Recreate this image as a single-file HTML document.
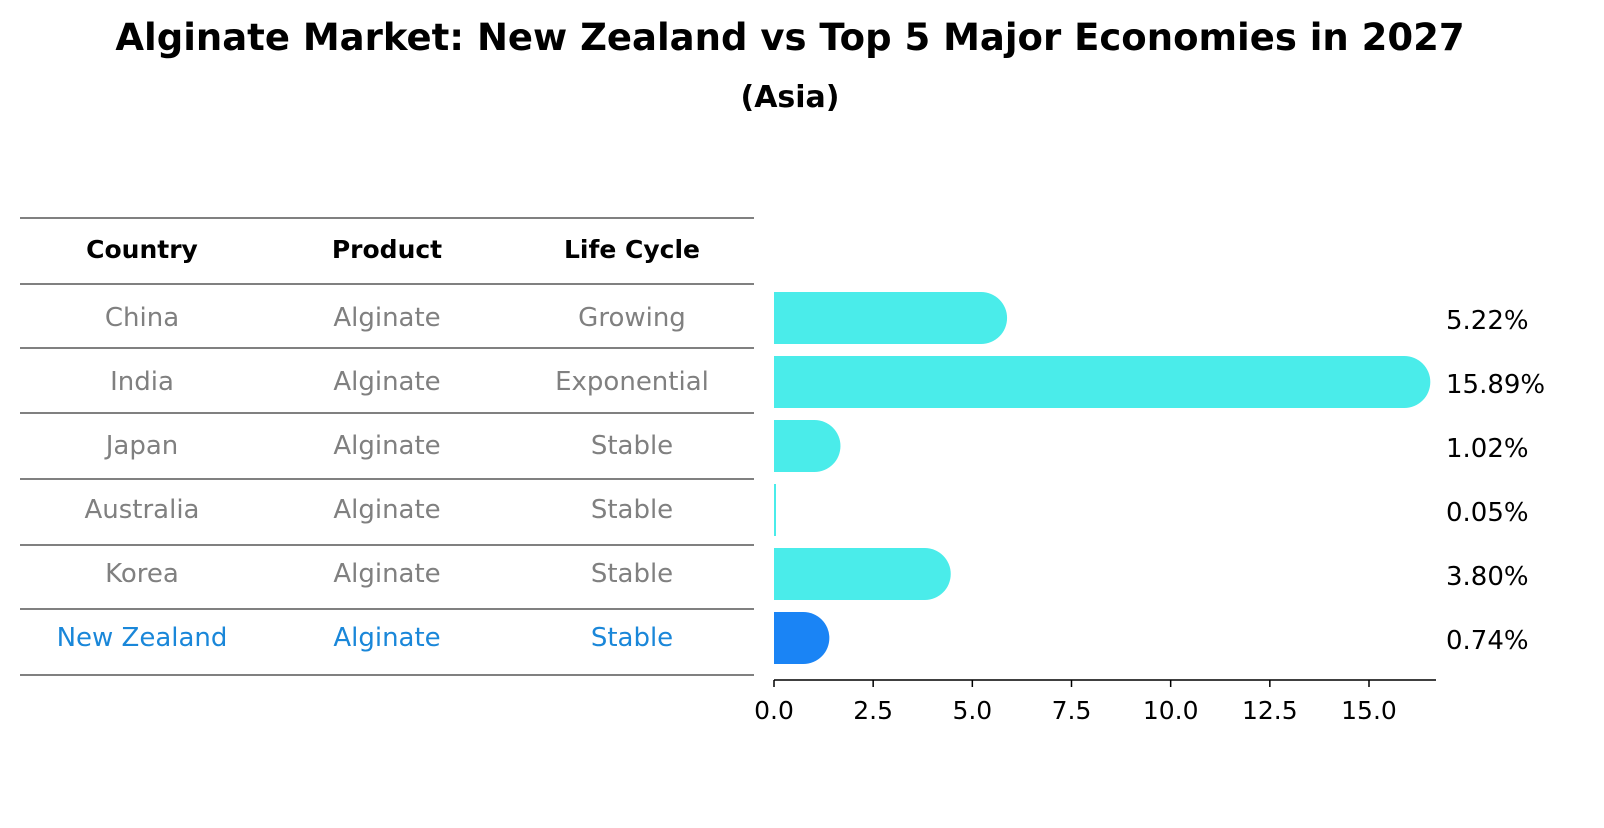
<!DOCTYPE html>
<html><head><meta charset="utf-8"><style>
body{margin:0;background:#fff;font-family:"Liberation Sans","DejaVu Sans",sans-serif;}
</style></head><body>
<svg width="1604" height="823" xmlns="http://www.w3.org/2000/svg" font-family="DejaVu Sans, Liberation Sans, sans-serif">
<rect width="1604" height="823" fill="#fff"/>
<text x="790" y="50" text-anchor="middle" font-size="37" font-weight="bold">Alginate Market: New Zealand vs Top 5 Major Economies in 2027</text>
<text x="790" y="107" text-anchor="middle" font-size="30" font-weight="bold">(Asia)</text>
<g id="table"></g>
<g id="bars"></g>
<g id="axis"></g>
</svg>
<script>
const countries=["China","India","Japan","Australia","Korea","New Zealand"];
const products=["Alginate","Alginate","Alginate","Alginate","Alginate","Alginate"];
const lifeCycles=["Growing","Exponential","Stable","Stable","Stable","Stable"];
const values=[5.22,15.89,1.02,0.05,3.80,0.74];
const valueLabels=["5.22%","15.89%","1.02%","0.05%","3.80%","0.74%"];
const xTicks=[0,2.5,5,7.5,10,12.5,15];
const xTickLabels=["0.0","2.5","5.0","7.5","10.0","12.5","15.0"];

const NS="http://www.w3.org/2000/svg";
function mk(tag,attrs,parent,txt){const e=document.createElementNS(NS,tag);for(const k in attrs)e.setAttribute(k,attrs[k]);if(txt!==undefined)e.textContent=txt;parent.appendChild(e);return e;}
const x0=774,pxPer=(1369-774)/15;
const xs=v=>x0+v*pxPer;
const yc=i=>318+i*64;
const barH=52,r=26;

const table=document.getElementById('table');
const lines=[218,284,348,413,479,545,609,675];
lines.forEach((y,i)=>{const l=mk('line',{x1:20,x2:754,y1:y,y2:y,stroke:'#000','stroke-width':1},table);

});
const colX=[142,387,632];
["Country","Product","Life Cycle"].forEach((h,j)=>{const t=mk('text',{x:colX[j],y:258,'text-anchor':'middle','font-size':25,'font-weight':'bold'},table,h);

});
countries.forEach((c,i)=>{
 const col=i===countries.length-1?'#1a87d9':'#808080';
 [c,products[i],lifeCycles[i]].forEach((v,j)=>{
  const t=mk('text',{x:colX[j],y:yc(i)+8,'text-anchor':'middle','font-size':26,fill:col},table,v);
  
  
 });
});

const bars=document.getElementById('bars');
values.forEach((v,i)=>{
 const col=i===values.length-1?'#1a84f5':'#4aecea';
 const xe=xs(v),top=yc(i)-barH/2;
 let d;
 if(v<0.2){d=`M${x0} ${top}h2v${barH}h-2z`;}
 else d=`M${x0} ${top}H${xe}A${r} ${r} 0 0 1 ${xe} ${top+barH}H${x0}Z`;
 const p=mk('path',{d:d,fill:col},bars);
 
 
 const t=mk('text',{x:1446,y:yc(i)+11,'font-size':26},bars,valueLabels[i]);
 
 
});

const axis=document.getElementById('axis');
mk('line',{x1:x0,x2:1436,y1:680,y2:680,stroke:'#000','stroke-width':1.5},axis);
xTicks.forEach((v,i)=>{
 mk('line',{x1:xs(v),x2:xs(v),y1:680,y2:687,stroke:'#000','stroke-width':1.5},axis);
 const t=mk('text',{x:xs(v),y:719,'text-anchor':'middle','font-size':25},axis,xTickLabels[i]);
 
 
});
</script>
</body></html>
